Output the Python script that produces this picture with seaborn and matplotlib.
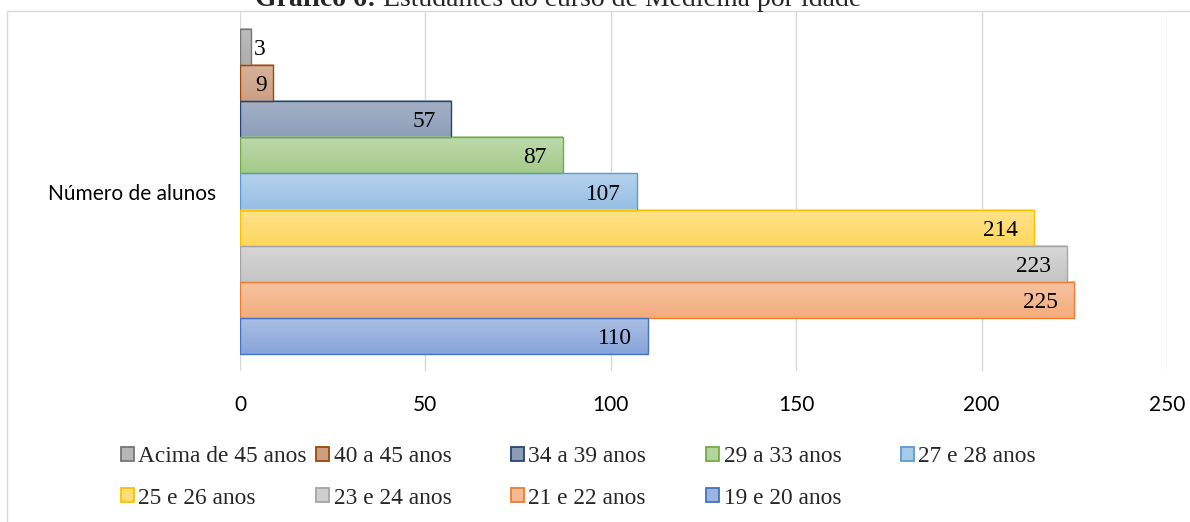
import numpy as np
import pandas as pd
import matplotlib
matplotlib.use("Agg")
import matplotlib.pyplot as plt
import seaborn as sns
from matplotlib.colors import to_rgb
from matplotlib.patches import Rectangle, Patch

# Faixas etárias, na ordem em que aparecem de cima para baixo
faixas = ["Acima de 45 anos", "40 a 45 anos", "34 a 39 anos", "29 a 33 anos",
          "27 e 28 anos", "25 e 26 anos", "23 e 24 anos", "21 e 22 anos",
          "19 e 20 anos"]
alunos = [3, 9, 57, 87, 107, 214, 223, 225, 110]
categoria = ["Número de alunos"] * len(faixas)
ticks_x = [0, 50, 100, 150, 200, 250]

# Cor de contorno de cada série; o preenchimento é um degradê mais claro
cores = ["#767676", "#9E480E", "#264478", "#70AD47", "#5B9BD5",
         "#FFC000", "#A5A5A5", "#ED7D31", "#4472C4"]
# quanto de branco entra no topo e na base do degradê
claro_topo = [0.52, 0.58, 0.58, 0.55, 0.55, 0.55, 0.55, 0.55, 0.55]
claro_base = [0.40, 0.48, 0.48, 0.36, 0.36, 0.36, 0.36, 0.36, 0.36]

sns.set_theme(style="white")
plt.rcParams["font.family"] = ["Liberation Serif", "DejaVu Sans"]

W, H = 1190, 522
fig = plt.figure(figsize=(W / 100, H / 100), dpi=100)

# moldura do gráfico
fig.patches.append(Rectangle((7 / W, -0.05), 1.1, 1.05 - 11 / H,
                             transform=fig.transFigure, fill=False,
                             edgecolor="#D9D9D9", linewidth=1.0))

ax = fig.add_axes([240 / W, 1 - 371 / H, (1167 - 240) / W, (371 - 12) / H])

df = pd.DataFrame({"categoria": categoria, "faixa": faixas, "alunos": alunos})
sns.barplot(data=df, x="alunos", y="categoria", hue="faixa", hue_order=faixas,
            palette=cores, orient="h", width=0.905, dodge=True, legend=False,
            saturation=1, ax=ax, errorbar=None)


def clarear(cor, f):
    r = np.array(to_rgb(cor))
    return r + (1 - r) * f


ax.set_xlim(0, 250)
ax.set_ylim(0.5, -0.5)

# degradê vertical em cada barra
for cont, cor, ft, fb in zip(ax.containers, cores, claro_topo, claro_base):
    for p in cont:
        x0, y0, w, h = p.get_x(), p.get_y(), p.get_width(), p.get_height()
        topo, base = clarear(cor, ft), clarear(cor, fb)
        t = np.linspace(0, 1, 64)[:, None, None]
        grad = topo[None, None, :] * (1 - t) + base[None, None, :] * t
        ax.imshow(grad, extent=[x0, x0 + w, y0 + h, y0], origin="upper",
                  aspect="auto", zorder=1.5, interpolation="bilinear")
        p.set_facecolor("none")
        p.set_edgecolor(cor)
        p.set_linewidth(1.0)
        p.set_zorder(2)

ax.set_xlim(0, 250)
ax.set_ylim(0.5, -0.5)

# rótulos de valor
for cont, v in zip(ax.containers, alunos):
    p = cont[0]
    yc = p.get_y() + p.get_height() / 2
    if v < 5:
        ax.annotate(str(v), xy=(v, yc), xytext=(3, 0), textcoords="offset pixels",
                    ha="left", va="center_baseline", fontsize=16.8, color="black",
                    zorder=3)
    else:
        gap = 16 if v > 20 else 6
        ax.annotate(str(v), xy=(v, yc), xytext=(-gap, 0), textcoords="offset pixels",
                    ha="right", va="center_baseline", fontsize=16.8, color="black",
                    zorder=3)

ax.set_xticks(ticks_x)
ax.set_xticklabels([str(t) for t in ticks_x], family="Lato", fontsize=15)
for lab in ax.get_yticklabels():
    lab.set_family("Lato")
    lab.set_fontsize(15)
ax.tick_params(axis="x", length=0, pad=17, colors="black")
ax.tick_params(axis="y", length=0, pad=17, colors="black")
ax.set_xlabel("")
ax.set_ylabel("")
ax.grid(axis="x", color="#D9D9D9", linewidth=1.0)
ax.grid(axis="y", visible=False)
ax.set_axisbelow(True)
for s in ax.spines.values():
    s.set_visible(False)

# legenda em 5 colunas de largura igual
col_x = [121, 316, 511, 706, 901]
for c, xpx in enumerate(col_x):
    idx = [i for i in (c, c + 5) if i < len(faixas)]
    handles = [Patch(facecolor=clarear(cores[i], 0.47), edgecolor=cores[i],
                     linewidth=1.3) for i in idx]
    labels = [faixas[i] for i in idx]
    fig.legend(handles, labels, loc="upper left",
               bbox_to_anchor=(xpx / W, 1 - 446.5 / H),
               bbox_transform=fig.transFigure, frameon=False, fontsize=16.8,
               handlelength=0.55, handleheight=0.55, handletextpad=0.2,
               borderpad=0, borderaxespad=0, labelspacing=0.86)

# título: parte em negrito seguida do texto normal
fig.canvas.draw()
t1 = fig.text(255 / W, 1 - 5.5 / H, "Gráfico 6:", fontsize=20, fontweight="bold",
              ha="left", va="baseline")
fig.canvas.draw()
bb = t1.get_window_extent()
fig.text(bb.x1 / W, 1 - 5.5 / H, " Estudantes do curso de Medicina por idade",
         fontsize=20, ha="left", va="baseline")

fig.savefig("out.png", dpi=100)
